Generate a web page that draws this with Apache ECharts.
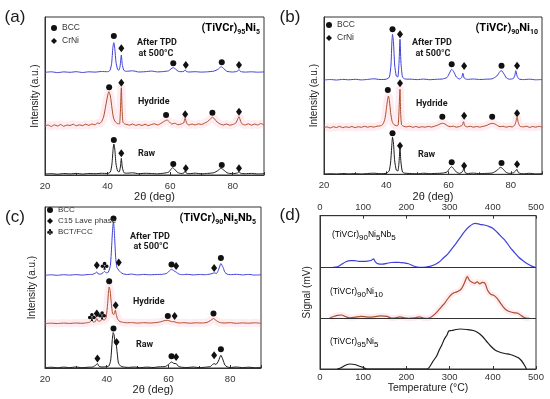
<!DOCTYPE html>
<html><head><meta charset="utf-8">
<script src="https://cdn.jsdelivr.net/npm/echarts@6/dist/echarts.min.js"></script>
<style>html,body{margin:0;padding:0;background:#fff}#c{width:550px;height:399px}</style>
</head><body><div id="c"></div>
<script>
// ---------- panel (a) (TiVCr)95Ni5 : heights above each trace's baseline ----------
const aTpd = [[20,0],[22,0.5],[24,-0.3],[26,0.4],[28,0],[30,0.6],[32,-0.2],[34,0.5],[36,0.2],[38,0.8],[40,0.6],[40.8,2],[41.3,9],[41.7,25],[42,29.6],[42.3,24],[42.7,10],[43.2,3],[43.6,2],[44.0,6],[44.4,17.3],[44.7,8],[45.2,2],[46,1],[48,1.5],[50,0.3],[52,0.6],[54,1.2],[56,0.4],[58,0.8],[59.5,1.5],[60.3,3.5],[61,4.6],[61.8,3],[62.6,1],[63.5,0.6],[64.4,1],[64.8,2.5],[65.2,0.8],[66,0.3],[68,0.6],[70,0.2],[72,0.5],[74,1.2],[75.3,3],[76.3,5.6],[77.2,3.5],[78,1.2],[79,0.5],[80,0.3],[81.5,1],[82,2.8],[82.5,0.8],[84,0.2],[86,0.5],[88,0.1],[90,0.4]];
const aHyd = [[20,0],[21,1],[22,-0.5],[23,1.2],[24,0],[25,1.5],[26,-0.3],[27,1],[28,0.5],[29,1.8],[30,0.2],[31,1.2],[32,0.4],[33,1.8],[34,0.6],[35,2],[36,1.2],[36.8,3],[37.5,2.5],[38.2,5],[38.8,10],[39.4,20],[40,30],[40.4,34.3],[40.9,30],[41.4,18],[41.9,8],[42.5,4],[43.2,2.5],[43.8,2],[44.1,15],[44.4,38.3],[44.6,20],[44.9,4],[45.5,2],[46.2,1.5],[47,0.8],[48,2],[49,0.6],[50,1.5],[51,0.5],[52,1.8],[53,0.4],[54,1.5],[55,2.2],[56,1],[57,2.5],[58,4.5],[59,6],[59.8,4],[60.5,2],[61.5,2.8],[62.5,1.2],[63.5,2],[64.3,3],[64.8,7.7],[65.3,2.5],[66,1],[67,2],[68,1],[69,2.2],[70,1.5],[71,2.8],[72,4.5],[73,7.5],[73.6,8.7],[74.2,7],[75,4],[76,2],[77,1],[78,2],[79,0.8],[80,1.5],[81,3],[81.6,7],[82,9.3],[82.5,5],[83,2],[84,1],[85,2.2],[86,0.8],[87,2],[88,1],[89,2.5],[90,1]];
const aRaw = [[20,0],[22,0.4],[24,-0.2],[26,0.5],[28,0.1],[30,0.6],[32,0],[34,0.5],[36,0.3],[38,0.7],[40,0.5],[40.9,2],[41.4,10],[41.8,26],[42,30],[42.3,25],[42.7,10],[43.2,3],[43.7,2],[44.1,7],[44.4,15.7],[44.7,7],[45.2,1.5],[46,0.8],[48,1.2],[50,0.3],[52,0.7],[54,0.5],[56,0.2],[58,0.8],[59.5,1.8],[60.2,4.5],[60.8,6.3],[61.5,4.5],[62.4,1.5],[63.5,0.5],[64.4,1],[64.8,3],[65.2,0.8],[66,0.3],[68,0.8],[70,0.2],[72,0.6],[74,1.3],[75.3,3.5],[76.3,5.7],[77.3,3.5],[78.2,1.2],[79,0.6],[80,0.4],[81.5,1],[82,2.3],[82.5,0.7],[84,0.3],[86,0.6],[88,0.1],[90,0.4]];
const aBcc  = [[[42,36.3],[61,9],[76.5,10]], [[40.5,38.7],[58.7,11],[73.5,13.3]], [[42,34],[61,10],[76.5,9]]];
const aCrNi = [[[44.4,24],[65,7.3],[82,7.3]], [[44.4,43.3],[64.8,11.7],[82,14.3]], [[44.4,20.7],[65,5.7],[82,5.7]]];

// ---------- panel (b) (TiVCr)90Ni10 ----------
const bTpd = [[20,0],[22,0.5],[24,0],[26,0.6],[28,0.2],[30,0.7],[32,0.1],[34,0.6],[36,1.2],[38,0.5],[40,0.8],[41,3],[41.5,15],[41.8,38],[42,45.7],[42.3,38],[42.7,15],[43.2,4],[43.7,3],[44.1,18],[44.4,40.7],[44.7,18],[45.2,3],[46,1],[48,0.8],[50,0.4],[52,0.9],[54,0.3],[56,0.7],[58,1],[59.5,2.5],[60.3,7],[61,10.7],[61.7,8],[62.5,3],[63.5,1],[64.2,2.5],[64.6,6.7],[65,2],[66,0.6],[68,1],[70,0.5],[72,0.8],[74,1.2],[75.5,4],[76.5,8.5],[77,9.3],[77.8,6],[78.6,2],[79.5,0.8],[80.8,1.5],[81.3,5],[81.6,9.3],[82,4],[82.6,1],[84,0.4],[86,0.8],[88,0.2],[90,0.5]];
const bHyd = [[20,0],[21,0.8],[22,-0.3],[23,1],[24,0.2],[25,1.3],[26,0],[27,0.9],[28,0.3],[29,1.2],[30,0],[31,1],[32,0.4],[33,1.4],[34,0.5],[35,1.2],[36,0.6],[37,1.5],[38,1.8],[38.8,3],[39.5,8],[40,18],[40.4,28],[40.7,31.7],[41,27],[41.4,15],[41.9,6],[42.5,3],[43.2,2],[43.8,2.5],[44.1,18],[44.4,38.4],[44.6,16],[44.9,3],[45.5,1.5],[46.5,0.8],[47.5,1.5],[48.5,0.4],[49.5,1.2],[50.5,0.3],[51.5,1],[52.5,0.5],[53.5,1.3],[54.5,0.6],[55.5,1.5],[56.5,2.5],[57.3,3.8],[58,4.4],[58.8,3.8],[59.6,2],[60.5,1],[61.5,1.5],[62.5,0.5],[63.5,1.2],[64.4,2.5],[64.8,6],[65.2,2],[66,0.8],[67,1.4],[68,0.5],[69,1.2],[70,0.6],[71,1.3],[72,2],[73,3.5],[74,4.4],[75,3.5],[75.8,2],[76.5,1],[77.5,1.4],[78.5,0.5],[79.5,1.2],[80.5,0.8],[81.3,3],[81.7,7],[82,10.4],[82.4,5],[82.9,1.5],[84,0.8],[85,1.5],[86,0.3],[87,1.2],[88,0.5],[89,1.4],[90,0.6]];
const bRaw = [[20,0],[22,0.3],[24,0],[26,0.5],[28,0.1],[30,0.4],[32,0],[34,0.5],[36,0.8],[38,0.3],[40,0.7],[40.9,3],[41.4,12],[41.8,30],[42,36.7],[42.3,31],[42.7,13],[43.2,4],[43.7,3],[44.1,12],[44.4,25.7],[44.7,12],[45.2,2],[46,0.8],[48,0.5],[50,0.2],[52,0.8],[54,0.3],[56,0.6],[58,0.9],[59.5,2],[60.3,5.5],[61,7.3],[61.7,5],[62.5,2],[63.5,0.6],[64.5,2.5],[64.9,5.7],[65.3,1.5],[66,0.5],[68,0.9],[70,0.3],[72,0.6],[74,1],[75.5,3.5],[76.7,6.7],[77.5,5],[78.4,1.8],[79.5,0.6],[80.8,1.2],[81.5,3],[81.9,4.7],[82.4,1.5],[83,0.6],[84,0.2],[86,0.7],[88,0.1],[90,0.4]];
const bBcc  = [[[42,50.7],[61,15.7],[77,14.3]], [[40.5,37.7],[58,11],[74,11]], [[42,40.7],[61,11.7],[77,11]]];
const bCrNi = [[[44.4,45.7],[65,14],[82,14.3]], [[44.4,44.4],[65,12],[82,14.4]], [[44.4,28.3],[65,8.3],[82,9.7]]];

// ---------- panel (c) (TiVCr)90Ni5Nb5 ----------
const cTpd = [[20,0],[22,0.5],[24,0],[26,0.6],[28,0.2],[30,0.7],[32,0.2],[34,0.8],[35.5,1],[36.5,2.5],[36.8,3.3],[37.2,1.5],[38,1.2],[38.8,2.5],[39.3,4],[39.8,2.5],[40.5,3],[41.2,10],[41.7,35],[42.0,50],[42.2,53.3],[42.5,42],[42.9,18],[43.3,8],[43.9,5],[44.5,3],[45.3,1.5],[46.5,0.8],[48,1.2],[50,0.4],[52,0.9],[54,0.5],[56,0.8],[58,1],[59.5,2],[60.3,4.5],[61,6],[61.8,4.5],[62.6,3],[63.4,1.2],[64.5,0.6],[66,1],[68,0.4],[70,0.8],[72,0.6],[73.5,1.2],[74.8,2.3],[75.6,2],[76.3,6],[77,11.7],[77.7,8],[78.3,3],[79,1.2],[80,0.6],[82,1],[84,0.4],[86,0.9],[88,0.2],[90,0.5]];
const cHyd = [[20,0],[22,0.4],[24,0.1],[26,0.5],[28,0.2],[30,0.6],[32,0.3],[33.5,0.8],[34.6,1.5],[35.2,3.3],[35.7,1.5],[36.3,2],[36.8,5],[37.3,2.5],[37.9,2.5],[38.5,4.3],[39.2,3.5],[39.8,6],[40.3,20],[40.6,33],[40.8,36.6],[41.1,33],[41.5,20],[41.9,10],[42.3,9],[42.6,12],[42.8,13.3],[43.1,9],[43.6,4],[44.3,2],[45.2,1.3],[46.5,0.8],[48,1],[50,0.5],[52,0.9],[54,0.6],[56,1],[57.5,1.8],[58.5,2.8],[59.6,3.3],[60.6,2.5],[61.3,1.8],[61.8,2],[62.5,1.2],[63.5,0.6],[65,0.9],[67,0.4],[69,0.8],[71,0.6],[72.5,1.2],[73.6,3],[74.6,5],[75.5,3],[76.5,1.2],[78,0.6],[80,0.9],[82,0.3],[84,0.7],[86,0.4],[88,0.8],[90,0.3]];
const cRaw = [[20,0.3],[22,0.8],[24,0.2],[26,0.9],[28,0.4],[30,1],[32,0.3],[34,0.8],[35.5,1],[36.5,3],[37,4.4],[37.4,2],[38.2,1],[39.5,1.2],[40.7,2],[41.3,8],[41.8,28],[42.1,35.4],[42.4,33],[42.7,24],[43.1,22.7],[43.4,15],[43.8,5],[44.5,2],[45.5,1],[47,0.6],[49,1],[51,0.4],[53,0.9],[55,0.5],[57,1.2],[59,1.5],[60.2,4],[61,6],[61.8,4.5],[62.5,4.4],[63.2,1.8],[64.2,0.8],[66,0.5],[68,1],[70,0.4],[72,0.8],[73.6,1.5],[74.3,3.5],[74.8,4.4],[75.4,3.5],[76.2,7],[77,12.7],[77.7,8],[78.3,3],[79,1.2],[80,0.5],[82,1],[84,0.4],[86,0.8],[88,0.3],[90,0.6]];
const cBcc = [[[42.2,56.7],[61,10.7],[77,17.3]], [[40.8,42.3],[59.8,7.6],[74.6,10]], [[42.2,39.4],[61,11.7],[77,18.7]]];
const cC15 = [[[36.8,10],[43.9,12.7],[62.5,9.3],[74.8,7.3]], [[42.9,18.3],[36.8,10],[62,7.6]], [[43.2,26],[37,9.4],[62.5,11],[74.8,12.7]]];
const cBct = [[[39.3,9.6]], [[35.2,6.6],[38.5,8.3]], []];

// ---------- panel (d) TPD signal, heights above each curve's baseline ----------
const dNi5Nb5 = [[30,0],[40,0.5],[50,3],[60,5.5],[70,6.6],[80,6.6],[90,6],[100,6],[110,6.2],[118,6.8],[124,8.5],[128,5.5],[135,3.5],[145,3.2],[155,4],[165,4.8],[175,5],[185,4.8],[195,4.5],[205,3.5],[215,1.5],[225,0.3],[235,0],[245,0.3],[255,1],[265,2.5],[275,5],[285,9],[295,13],[305,18.5],[315,24],[325,30],[335,36],[345,40.5],[355,43.5],[360,44],[370,43],[380,42.3],[390,41],[400,39],[410,35],[420,30.5],[430,26],[440,20],[450,15],[460,10],[470,6.5],[480,3.5],[490,1.2],[498,0]];
const dNi10 = [[22,0],[30,1.5],[40,3],[50,3.3],[60,1.5],[70,0.5],[80,1],[95,2],[110,1.2],[125,1.5],[140,2.5],[155,2],[165,0.3],[175,0.5],[185,1.5],[195,0.5],[205,0],[220,0.5],[230,1.5],[240,0.3],[250,0],[260,2],[270,6],[280,11],[290,16],[300,22],[310,25.5],[320,27],[328,30],[335,36],[341,41.6],[346,38],[352,36],[358,35],[364,36.5],[370,34.5],[376,36],[382,35],[388,28],[395,24],[402,23],[410,20],[418,15],[425,11],[432,8],[440,6.5],[450,5.5],[458,5],[465,3],[472,1],[480,0],[485,0]];
const dNi5 = [[40,0],[50,1.5],[60,4],[70,5],[80,4.5],[90,3],[100,1.5],[108,0],[248,0],[255,3],[262,8],[270,13],[276,19],[282,24],[288,30],[294,34],[298,38],[305,38.5],[315,39.5],[325,40],[340,39.5],[355,38.5],[365,36.5],[375,33],[385,28],[395,23],[405,19],[415,17],[428,15.5],[440,14.5],[450,13],[460,11],[467,8],[473,4],[478,0]];

const XRD_TICKS = [20, 40, 60, 80];
const TPD_TICKS = [0, 100, 200, 300, 400, 500];

const C = {tpd:'#3f3fd9', hyd:'#a9502e', raw:'#1c1c1c', pink:'rgba(255,140,170,0.17)', ax:'#333'};
const CLUB = 'path://M31,27 A19,19 0 1,0 69,27 A19,19 0 1,0 31,27 Z M8,58 A19,19 0 1,0 46,58 A19,19 0 1,0 8,58 Z M54,58 A19,19 0 1,0 92,58 A19,19 0 1,0 54,58 Z M50,48 L37,96 L63,96 Z';

const grids = [
  {left:45, top:17, width:219, height:158},
  {left:324, top:17, width:218, height:157.3},
  {left:45, top:207, width:216, height:161},
  {left:320, top:215.7, width:216, height:153.3}
];
grids.forEach(g => Object.assign(g, {show:true, borderColor:C.ax, borderWidth:1, containLabel:false}));

function sh(arr, off){ return arr.map(p => [p[0], p[1] + off]); }

const series = [];
function xrd(gi, traces, offs, marks){
  series.push({type:'line', xAxisIndex:gi, yAxisIndex:gi, data:sh(traces[1], offs[1]), showSymbol:false, silent:true, smooth:0.2,
    lineStyle:{color:C.pink, width:8}, z:1});
  const cols = [C.tpd, C.hyd, C.raw];
  traces.forEach((d,i) => series.push({type:'line', xAxisIndex:gi, yAxisIndex:gi, data:sh(d, offs[i]), showSymbol:false, silent:true,
    smooth:0.2, lineStyle:{color:cols[i], width:1}, z:2}));
  marks.forEach(m => {
    let data = [];
    m.sets.forEach((s,i) => { data = data.concat(sh(s, offs[i])); });
    series.push({type:'scatter', name:m.name, xAxisIndex:gi, yAxisIndex:gi, data, symbol:m.symbol, symbolSize:m.size,
      itemStyle:{color:'#111', opacity:1}, silent:true, z:3});
  });
}
const BCC = {name:'BCC', symbol:'circle', size:6};
const DIA = {symbol:'diamond', size:[6,8]};
xrd(0, [aTpd, aHyd, aRaw], [102.7, 49, 1], [Object.assign({sets:aBcc}, BCC), Object.assign({name:'CrNi', sets:aCrNi}, DIA)]);
xrd(1, [bTpd, bHyd, bRaw], [94.3, 46.6, 0.3], [Object.assign({sets:bBcc}, BCC), Object.assign({name:'CrNi', sets:bCrNi}, DIA)]);
xrd(2, [cTpd, cHyd, cRaw], [92.7, 44.4, 0], [Object.assign({sets:cBcc}, BCC), Object.assign({name:'C15 Lave phase', sets:cC15}, DIA),
  {name:'BCT/FCC', symbol:CLUB, size:8, sets:cBct}]);

// panel d
const dOffs = [101.7, 50.7, 0];
series.push({type:'line', xAxisIndex:3, yAxisIndex:3, data:sh(dNi10, dOffs[1]), showSymbol:false, silent:true, smooth:0.3,
  lineStyle:{color:C.pink, width:6}, z:1});
[[dNi5Nb5, C.tpd], [dNi10, C.hyd], [dNi5, C.raw]].forEach((p,i) => series.push({type:'line', xAxisIndex:3, yAxisIndex:3,
  data:sh(p[0], dOffs[i]), showSymbol:false, silent:true, smooth:0.3, lineStyle:{color:p[1], width:1.2}, z:2,
  markLine: i === 0 ? {silent:true, symbol:'none', label:{show:false}, lineStyle:{color:C.ax, width:1, type:'solid'},
    data:[{yAxis:dOffs[1]}, {yAxis:dOffs[0]}]} : undefined}));

function xAx(gi){
  return {type:'value', gridIndex:gi, min:20, max:90, interval:20, splitLine:{show:false},
    axisLine:{lineStyle:{color:C.ax}}, axisTick:{inside:true, length:3, lineStyle:{color:C.ax}},
    minorTick:{show:true, splitNumber:2, length:2, lineStyle:{color:C.ax}},
    axisLabel:{fontSize:9.5, color:'#333', margin:6, fontFamily:'Liberation Sans',
      customValues: XRD_TICKS},
    name:'2θ (deg)', nameLocation:'middle', nameGap:11, nameTextStyle:{fontSize:11, color:'#222', fontFamily:'Liberation Sans'}};
}
function yAx(gi, h, name, gap){
  return {type:'value', gridIndex:gi, min:0, max:h, splitLine:{show:false}, axisTick:{show:false}, axisLabel:{show:false},
    axisLine:{show:true, lineStyle:{color:C.ax}}, name, nameLocation:'middle', nameGap:gap,
    nameTextStyle:{fontSize:10, color:'#222', fontFamily:'Liberation Sans'}};
}
const dX = (pos) => ({type:'value', gridIndex:3, position:pos, min:0, max:500, interval:100, splitLine:{show:false},
  axisLine:{lineStyle:{color:C.ax}}, axisTick:{inside:true, length:3, lineStyle:{color:C.ax}},
  axisLabel:{fontSize:9.5, color:'#333', margin:3, fontFamily:'Liberation Sans', customValues: TPD_TICKS},
  name: pos === 'bottom' ? 'Temperature (°C)' : '', nameLocation:'middle', nameGap:14,
  nameTextStyle:{fontSize:10.5, color:'#222', fontFamily:'Liberation Sans'}});

const legBase = {orient:'vertical', itemWidth:6, itemHeight:6, itemGap:3, selectedMode:false, padding:0,
  itemStyle:{color:'#111', opacity:1},
  textStyle:{fontSize:8.5, color:'#333', fontFamily:'Liberation Sans', lineHeight:10}};

const TF = 'Roboto';
function T(x, y, text, opts){
  return Object.assign({type:'text', x, y, silent:true, style:Object.assign({text, textAlign:'left', textVerticalAlign:'middle',
    font:'bold 9px ' + TF, fill:'#1a1a1a'}, opts || {})});
}
const titleRich = {n:{fontSize:11, fontWeight:'bold', fontFamily:TF, lineHeight:16, verticalAlign:'middle', color:'#111'},
                   s:{fontSize:7, fontWeight:'bold', fontFamily:TF, verticalAlign:'bottom', color:'#111'}};
const dRich = {n:{fontSize:8.5, fontFamily:'Liberation Sans', lineHeight:14, verticalAlign:'middle', color:'#333'},
               s:{fontSize:8, fontFamily:'Liberation Sans', verticalAlign:'bottom', color:'#333'}};
function R(x, y, text, rich, align){
  return {type:'text', x, y, silent:true, style:{text, rich, textAlign:align||'left', textVerticalAlign:'middle'}};
}

const graphics = [
  T(15, 17, '(a)', {font:'17px Liberation Sans', textAlign:'center'}),
  T(290, 17, '(b)', {font:'17px Liberation Sans', textAlign:'center'}),
  T(15, 217, '(c)', {font:'17px Liberation Sans', textAlign:'center'}),
  T(290, 215, '(d)', {font:'17px Liberation Sans', textAlign:'center'}),
  R(260, 28, '{n|(TiVCr)}{s|95}{n|Ni}{s|5}', titleRich, 'right'),
  R(538, 28, '{n|(TiVCr)}{s|90}{n|Ni}{s|10}', titleRich, 'right'),
  R(256, 218, '{n|(TiVCr)}{s|90}{n|Ni}{s|5}{n|Nb}{s|5}', titleRich, 'right'),
  T(157, 43, 'After TPD', {textAlign:'center'}), T(156, 53.5, 'at 500°C', {textAlign:'center'}),
  T(138, 102, 'Hydride'), T(138, 154, 'Raw'),
  T(432, 43, 'After TPD', {textAlign:'center'}), T(433, 53.5, 'at 500°C', {textAlign:'center'}),
  T(416, 104, 'Hydride'), T(418, 154.5, 'Raw'),
  T(150, 236.7, 'After TPD', {textAlign:'center'}), T(151, 247, 'at 500°C', {textAlign:'center'}),
  T(133, 301.7, 'Hydride'), T(136, 345, 'Raw'),
  R(332, 235, '{n|(TiVCr)}{s|90}{n|Ni}{s|5}{n|Nb}{s|5}', dRich),
  R(330, 292, '{n|(TiVCr)}{s|90}{n|Ni}{s|10}', dRich),
  R(330, 342, '{n|(TiVCr)}{s|95}{n|Ni}{s|5}', dRich)
];

const option = {
  animation:false, backgroundColor:'#fff',
  grid: grids,
  xAxis: [xAx(0), xAx(1), xAx(2), dX('bottom'), dX('top')],
  yAxis: [yAx(0,158,'Intensity (a.u.)',5), yAx(1,157.3,'Intensity (a.u.)',5), yAx(2,161,'Intensity (a.u.)',8), yAx(3,153.3,'Signal (mV)',8)],
  legend: [
    Object.assign({left:51, top:23, data:['BCC','CrNi']}, legBase),
    Object.assign({left:326, top:20, data:['BCC','CrNi']}, legBase),
    Object.assign({}, legBase, {left:47, top:205, itemGap:1, data:['BCC','C15 Lave phase','BCT/FCC'],
      textStyle:{fontSize:8, color:'#333', fontFamily:'Liberation Sans', lineHeight:10}})
  ],
  series,
  graphic: graphics
};
const chart = echarts.init(document.getElementById('c'), null, {renderer:'canvas'});
chart.setOption(option);
</script></body></html>
